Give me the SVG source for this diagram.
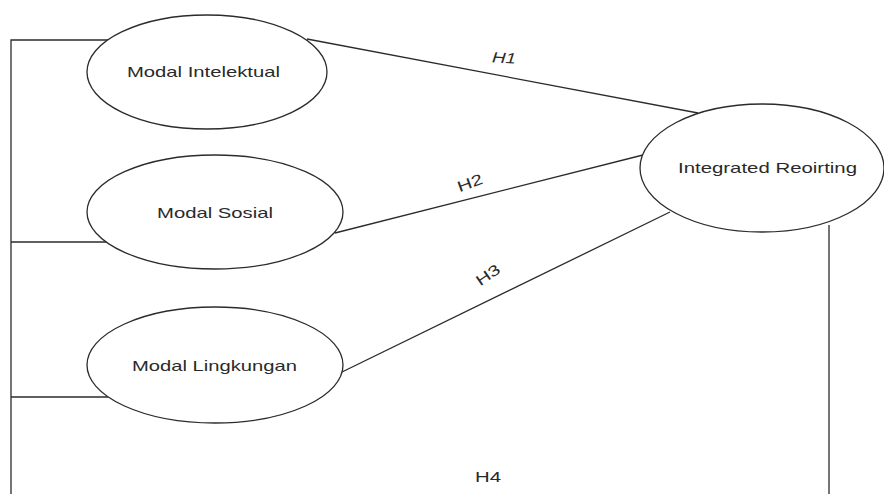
<svg xmlns="http://www.w3.org/2000/svg" width="884" height="494" viewBox="0 0 884 494">
<style>
.node ellipse{fill:#fff;stroke:#2b2b2b;stroke-width:1.3}
.lbl{font-family:"Liberation Sans",Arial,sans-serif;font-size:15px;fill:#2a2a2a;text-anchor:middle}
.conn line,.conn polyline{stroke:#2b2b2b;stroke-width:1.3;fill:none}
</style>
<rect width="884" height="494" fill="#fff"/>
<g id="connectors" class="conn">
<polyline points="112,40 11,40 11,494"/>
<line x1="11" y1="242" x2="108" y2="242"/>
<line x1="11" y1="397" x2="108" y2="397"/>
<line x1="307" y1="39" x2="698" y2="113"/>
<line x1="335" y1="233" x2="643" y2="155"/>
<line x1="342" y1="372" x2="670" y2="212"/>
<line x1="829" y1="225" x2="829" y2="494"/>
<text class="lbl" x="504" y="63" font-style="italic" textLength="24" lengthAdjust="spacingAndGlyphs" transform="rotate(4 504 58)">H1</text>
<text class="lbl" x="470" y="188" textLength="26" lengthAdjust="spacingAndGlyphs" transform="rotate(-20 470 183)">H2</text>
<text class="lbl" x="488" y="280" textLength="26" lengthAdjust="spacingAndGlyphs" transform="rotate(-35 488 275)">H3</text>
<text class="lbl" x="488" y="482" textLength="26" lengthAdjust="spacingAndGlyphs">H4</text>
</g>
<g id="modal-intelektual" class="node">
<ellipse cx="207" cy="72" rx="120" ry="57"/>
<text class="lbl" x="203.5" y="77" textLength="153" lengthAdjust="spacingAndGlyphs">Modal Intelektual</text>
</g>
<g id="modal-sosial" class="node">
<ellipse cx="215" cy="212" rx="128" ry="57"/>
<text class="lbl" x="215" y="218" textLength="116" lengthAdjust="spacingAndGlyphs">Modal Sosial</text>
</g>
<g id="modal-lingkungan" class="node">
<ellipse cx="215" cy="365" rx="128" ry="58"/>
<text class="lbl" x="214.5" y="371" textLength="165" lengthAdjust="spacingAndGlyphs">Modal Lingkungan</text>
</g>
<g id="integrated-reoirting" class="node">
<ellipse cx="762" cy="168" rx="122" ry="64"/>
<text class="lbl" x="767.5" y="173" textLength="179" lengthAdjust="spacingAndGlyphs">Integrated Reoirting</text>
</g>
</svg>
